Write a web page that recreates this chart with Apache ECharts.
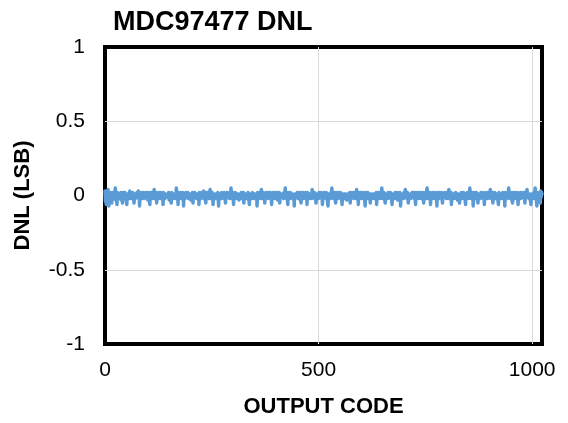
<!DOCTYPE html>
<html>
<head>
<meta charset="utf-8">
<script src="https://cdn.jsdelivr.net/npm/echarts@6/dist/echarts.min.js"></script>
<style>
  html, body { margin: 0; padding: 0; background: #fff; }
  #main { width: 568px; height: 423px; }
</style>
</head>
<body>
<div id="main"></div>
<script>
// DNL per output code (LSB), codes 0..1023
var dnl = [
  .03,-.04,.01,-.06,.02,0,-.01,.04,-.02,-.07,.01,-.01,.02,0,-.02,.01,-.05,.02,-.01,0,.02,-.02,.01,-.01,.05,-.03,.01,0,-.06,.02,-.01,.01,
  0,.02,-.02,.01,-.01,.02,-.03,0,.01,-.05,.02,-.01,.01,0,-.02,.02,.01,-.01,0,-.06,.01,.02,-.01,0,.01,-.02,.03,-.01,0,.01,-.02,.01,
  -.01,.02,0,-.01,-.05,.01,.02,-.02,0,.01,-.01,.02,-.01,0,.03,-.02,.01,-.07,.01,0,-.01,.02,-.02,.01,0,-.01,.02,.01,-.02,0,.01,-.01,
  .02,-.01,0,.01,-.03,.02,-.01,.01,0,-.06,.02,.01,-.01,0,.02,-.02,.01,0,-.01,.04,-.02,.01,0,-.01,.02,-.05,.01,0,.01,-.02,.02,-.01,
  0,.01,-.02,.02,-.01,0,.01,-.01,-.06,.02,0,.01,-.02,.01,0,.02,-.01,-.02,.01,0,-.01,.02,-.03,.01,.01,-.01,0,-.05,.02,-.01,.01,0,
  -.02,.01,.02,-.01,0,.01,-.02,.05,-.01,0,.01,-.06,.02,-.01,.01,0,-.01,.02,-.02,0,.01,-.01,.02,0,-.07,.01,.01,-.02,0,.02,-.01,.01,
  0,-.01,.02,-.02,.01,0,-.01,.01,.02,-.03,0,.01,-.01,.02,-.05,.01,0,-.01,.02,-.01,.01,0,-.02,.01,.02,-.01,0,.01,-.06,.02,-.01,0,
  .01,-.02,.02,0,-.01,.01,-.01,.03,-.02,0,.01,-.01,-.05,.02,.01,-.01,0,.02,-.02,.01,0,-.01,.04,-.02,.01,0,-.01,.02,-.01,-.06,.01,0,
  .02,-.01,0,.01,-.02,.01,0,-.01,.02,-.01,-.07,.01,.02,0,-.01,.01,-.02,.02,0,-.01,.01,0,-.02,.02,-.01,.01,-.05,0,.01,-.01,.02,0,
  -.01,.01,0,-.02,.02,-.01,.01,.05,-.02,0,-.01,.01,.02,-.06,.01,0,-.01,.02,-.01,0,.01,-.02,.01,0,.02,-.01,-.03,.01,0,.01,-.01,.02,
  -.02,0,.01,-.01,.02,-.05,.01,0,-.01,.01,.02,-.02,0,.01,-.01,.02,-.01,0,-.06,.01,.02,-.01,0,.01,-.02,.02,.01,-.01,0,.01,-.02,.01,
  0,.02,-.01,.01,-.07,.02,0,-.01,.01,-.02,.02,.01,-.01,0,.04,-.02,.01,0,-.01,.02,-.02,.01,-.05,0,.01,-.01,.02,0,-.01,.01,-.02,.02,
  .01,-.01,0,.02,-.02,.01,-.06,0,.01,-.01,.02,-.01,0,.01,-.02,.02,0,-.01,.01,.02,-.03,0,.01,-.01,.02,-.05,.01,0,-.01,.01,.02,-.01,
  0,.01,-.02,.02,-.01,0,.05,-.01,.01,-.02,0,.01,-.06,.02,-.01,.01,0,-.01,.02,-.02,.01,0,-.01,.01,.02,-.02,0,-.07,.01,.02,-.01,0,
  .01,-.01,.02,0,-.02,.01,-.01,.02,0,-.01,.01,-.05,.02,0,-.01,.01,.02,-.02,.01,0,-.01,.02,-.01,0,.01,-.06,.02,-.01,.01,0,-.02,.01,
  .02,-.01,0,.01,-.02,.04,-.01,0,.01,-.01,.02,-.02,0,.01,-.05,.01,.02,-.01,0,.01,-.02,.02,-.01,.01,0,-.01,.02,-.02,.01,-.06,0,.01,
  -.01,.02,0,-.01,.01,-.02,.02,.01,-.01,0,-.07,.01,.02,-.01,0,.01,-.02,.02,-.01,.05,0,-.01,.01,-.02,.02,0,-.01,.01,-.05,.02,-.01,0,
  .01,-.02,.02,-.01,0,.01,-.01,.02,-.02,.01,0,-.06,.01,.02,-.01,0,.01,-.02,.01,.02,-.01,0,-.03,.01,.02,-.01,0,.01,-.02,.02,-.05,.01,
  0,-.01,.02,-.01,.01,0,-.02,.02,.01,-.01,0,.01,-.02,.04,-.01,0,.01,-.06,.02,-.01,.01,0,-.01,.02,-.02,.01,0,-.01,.02,.01,-.02,0,
  .01,-.07,.02,0,-.01,.01,-.02,.02,-.01,0,.01,.02,-.01,-.05,.01,0,.02,-.02,.01,-.01,0,.01,.02,-.02,0,.01,-.01,.02,-.06,.01,0,-.01,
  .02,-.01,.01,0,-.02,.02,-.01,.01,.05,-.02,0,.01,-.01,.02,-.01,0,-.05,.01,.02,-.01,0,.01,-.02,.02,0,-.01,.01,-.01,.02,-.02,.01,0,
  -.06,.01,.02,-.01,0,.01,-.02,.02,-.01,.01,0,-.01,.02,-.03,.01,0,.01,-.01,.02,-.02,-.07,.01,0,.02,-.01,.01,0,-.02,.02,-.01,.01,.04,
  -.01,0,.01,-.02,.02,-.01,-.05,.01,0,.02,-.01,.01,-.02,0,.01,.02,-.01,0,-.01,.02,-.02,.01,0,-.06,.02,-.01,.01,0,-.01,.02,-.02,.01,
  0,.01,-.01,.02,-.02,.01,0,-.01,.02,.01,-.05,0,.01,-.01,.02,-.02,.01,0,.05,-.01,.01,-.02,0,.01,-.01,.02,-.06,.01,0,.01,-.02,.02,
  -.01,.01,0,-.02,.02,.01,-.01,0,.01,-.07,.02,-.01,0,.01,-.02,.02,-.01,.01,0,-.01,.02,-.02,-.05,.01,.01,0,-.01,.02,-.01,0,.01,-.02,
  .02,0,-.01,.01,-.02,.04,-.01,0,.01,-.01,.02,-.06,.01,0,.02,-.01,.01,-.02,0,.01,-.01,.02,-.02,.01,0,-.03,.01,.02,-.01,0,-.05,.01,
  .01,-.01,.02,0,-.02,.01,-.01,.02,-.01,0,.01,.02,-.06,.01,0,-.01,.02,-.02,.01,0,.01,-.01,.05,-.02,0,.01,-.01,.02,-.01,.01,-.07,0,
  .02,-.01,.01,0,-.02,.02,-.01,.01,0,-.05,.01,.02,-.01,0,.01,-.02,.02,-.01,0,.01,-.01,.02,-.02,.01,-.06,0,.01,-.01,.02,-.01,0,.01,
  -.02,.02,.01,-.01,0,.01,.04,-.02,.01,0,-.01,.02,-.05,.01,0,-.01,.02,-.02,.01,0,-.01,.01,.02,-.01,0,-.06,.02,-.01,.01,0,-.02,.01,
  .01,0,-.01,.02,-.02,.01,0,-.01,-.07,.02,.01,-.01,0,.01,-.02,.02,-.01,.05,0,-.01,.01,-.02,.02,0,-.01,.01,-.05,.02,-.01,0,.01,-.02,
  .02,-.01,0,.01,-.01,.02,-.02,-.06,.01,0,.01,-.01,.02,-.02,.01,0,-.01,.02,-.01,.01,0,-.02,.02,-.05,.01,0,-.01,.02,.04,-.01,.01,0,
  -.02,.01,.02,-.01,0,-.06,.01,.02,-.01,0,.01,-.02,.02,-.01,.01,.05,-.02,0,.01,-.07,.02,-.01,.01,0,-.02,.02,.01,-.05,.03,-.01,.02,.01
];
var yTicks = [-1, -0.5, 0, 0.5, 1];
var xTicks = [0, 500, 1000];

var chart = echarts.init(document.getElementById('main'));
var font = 'Liberation Sans, Arial, sans-serif';

chart.setOption({
  animation: false,
  title: {
    text: 'MDC97477 DNL',
    left: 108,
    top: 4,
    textStyle: { fontFamily: font, fontWeight: 'bold', fontSize: 27, color: '#000' }
  },
  grid: {
    left: 105, right: 26, top: 47, bottom: 79,
    show: true,
    borderColor: '#000',
    borderWidth: 4
  },
  xAxis: {
    type: 'value',
    min: 0,
    max: 1023,
    interval: 500,
    name: 'OUTPUT CODE',
    nameLocation: 'middle',
    nameGap: 52,
    nameTextStyle: { fontFamily: font, fontWeight: 'bold', fontSize: 22, color: '#000' },
    axisLine: { show: false },
    axisTick: { show: false },
    axisLabel: {
      margin: 16, fontFamily: font, fontSize: 21, color: '#000',
      showMaxLabel: false,
      formatter: function (v) { return xTicks.indexOf(v) >= 0 ? String(v) : ''; }
    },
    splitLine: { show: true, showMinLine: false, showMaxLine: false, lineStyle: { color: '#D9D9D9', width: 1 } }
  },
  yAxis: {
    type: 'value',
    min: -1,
    max: 1,
    interval: 0.5,
    name: 'DNL (LSB)',
    nameLocation: 'middle',
    nameGap: 71,
    nameTextStyle: { fontFamily: font, fontWeight: 'bold', fontSize: 22, color: '#000' },
    axisLine: { show: false },
    axisTick: { show: false },
    axisLabel: {
      margin: 20, fontFamily: font, fontSize: 21, color: '#000',
      formatter: function (v) { return yTicks.indexOf(v) >= 0 ? String(v) : ''; }
    },
    splitLine: { show: true, showMinLine: false, showMaxLine: false, lineStyle: { color: '#D9D9D9', width: 1 } }
  },
  series: [{
    type: 'line',
    data: dnl.map(function (v, i) { return [i, v]; }),
    showSymbol: false,
    symbol: 'none',
    sampling: null,
    lineStyle: { color: '#5B9BD5', width: 3.5, join: 'round', cap: 'round' },
    itemStyle: { color: '#5B9BD5' },
    clip: false
  }]
});
</script>
</body>
</html>
